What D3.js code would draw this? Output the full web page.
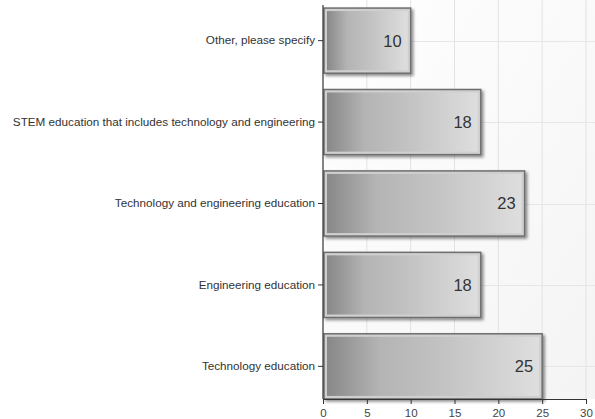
<!DOCTYPE html>
<html><head><meta charset="utf-8">
<script src="https://cdn.jsdelivr.net/npm/d3@7"></script>
<style>body{margin:0;background:#fff}svg{display:block}</style>
</head><body>
<script>
const categories = ["Other, please specify","STEM education that includes technology and engineering","Technology and engineering education","Engineering education","Technology education"];
const values = [10, 18, 23, 18, 25];
const xTicks = [0,5,10,15,20,25,30];

const W=595,H=419;
const m={left:323};
const svg=d3.select("body").append("svg").attr("width",W).attr("height",H);
const defs=svg.append("defs");
const bg=defs.append("linearGradient").attr("id","bg").attr("x1","0").attr("y1","0").attr("x2","1").attr("y2","1");
bg.append("stop").attr("offset","0").attr("stop-color","#ffffff");
bg.append("stop").attr("offset","1").attr("stop-color","#f4f4f4");
const bar=defs.append("linearGradient").attr("id","bar").attr("x1","0").attr("x2","1").attr("y1","0").attr("y2","0");
[[0,"#888888"],[0.25,"#b4b4b4"],[0.55,"#c3c3c3"],[1,"#dedede"]].forEach(([o,c])=>bar.append("stop").attr("offset",o).attr("stop-color",c));
const f=defs.append("filter").attr("id","sh").attr("x","-10%").attr("y","-10%").attr("width","130%").attr("height","140%");
f.append("feDropShadow").attr("dx",2).attr("dy",2).attr("stdDeviation",1.5).attr("flood-color","#000").attr("flood-opacity",0.45);

const x=d3.scaleLinear().domain([0,30]).range([m.left,586]);
const y=d3.scaleBand().domain(categories).range([4,403]).paddingInner(0.2).paddingOuter(0.05);
const axisY=399;

svg.append("rect").attr("x",m.left).attr("y",0).attr("width",W-m.left).attr("height",axisY).attr("fill","url(#bg)");
// grid
svg.append("g").selectAll("line").data(xTicks.slice(1)).join("line")
 .attr("x1",d=>x(d)).attr("x2",d=>x(d)).attr("y1",0).attr("y2",axisY)
 .attr("stroke","#e2e2e2").attr("stroke-width",1);
svg.append("g").selectAll("line").data(categories).join("line")
 .attr("x1",m.left).attr("x2",W).attr("y1",d=>Math.round(y(d)+y.bandwidth()/2)+0.5).attr("y2",d=>Math.round(y(d)+y.bandwidth()/2)+0.5)
 .attr("stroke","#e6e6e6");

// bars
const g=svg.append("g").selectAll("g").data(categories.map((c,i)=>({c,v:values[i]}))).join("g");
g.append("rect").attr("x",x(0)+1).attr("y",d=>y(d.c)).attr("width",d=>x(d.v)-x(0)-1).attr("height",y.bandwidth())
 .attr("fill","#cfcfcf").attr("stroke","#6e6e6e").attr("stroke-width",1.5).attr("filter","url(#sh)");
g.append("rect").attr("x",x(0)+4).attr("y",d=>y(d.c)+3).attr("width",d=>x(d.v)-x(0)-7).attr("height",y.bandwidth()-6)
 .attr("fill","url(#bar)");
g.append("text").attr("x",d=>x(d.v)-9).attr("y",d=>y(d.c)+y.bandwidth()/2).attr("dy","0.36em")
 .attr("text-anchor","end").attr("font-family","Liberation Sans, Arial, sans-serif").attr("font-size",16.5).attr("fill","#333")
 .text(d=>d.v);

// axes
const xa=svg.append("g").attr("transform",`translate(0,${axisY})`).call(d3.axisBottom(x).tickValues(xTicks).tickSize(5).tickSizeOuter(0));
xa.select(".domain").attr("stroke","#333").attr("stroke-width",1.2);
xa.selectAll(".tick line").attr("stroke","#333");
xa.selectAll("text").attr("font-family","Liberation Sans, Arial, sans-serif").attr("font-size",11.5).attr("fill","#444").attr("dy","0.85em");
const ya=svg.append("g").attr("transform",`translate(${m.left},0)`).call(d3.axisLeft(y).tickSize(5).tickSizeOuter(0).tickPadding(3));
ya.select(".domain").attr("d",`M0,5V${axisY}`).attr("stroke","#333").attr("stroke-width",1.2);
ya.selectAll(".tick line").attr("stroke","#333");
ya.selectAll("text").attr("font-family","Liberation Sans, Arial, sans-serif").attr("font-size",11.7).attr("fill","#333");
</script>
</body></html>
